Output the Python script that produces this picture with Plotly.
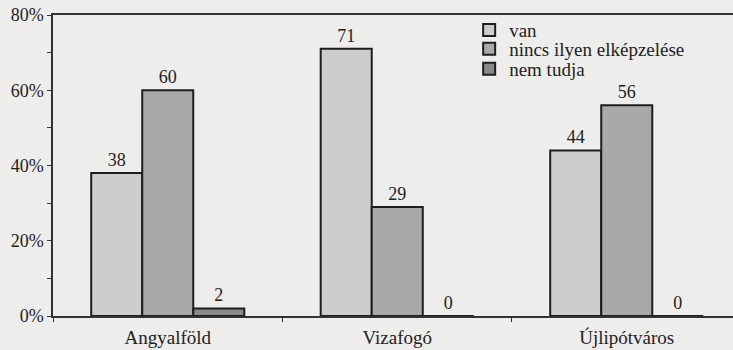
import plotly.graph_objects as go

categories = ["Angyalföld", "Vizafogó", "Újlipótváros"]
series_names = ["van", "nincs ilyen elképzelése", "nem tudja"]
van = [38, 71, 44]
nincs = [60, 29, 56]
nem_tudja = [2, 0, 0]
y_tickvals = [0, 20, 40, 60, 80]
y_ticktext = ["0%", "20%", "40%", "60%", "80%"]

colors = ["#cdcdcd", "#a9a9a9", "#898989"]
font_family = "'Liberation Serif', 'Times New Roman', Times, serif"
legend_names = ["legend", "legend2", "legend3"]
legend_y = [0.950, 0.887, 0.821]

fig = go.Figure()
for name, vals, col, lg in zip(series_names, [van, nincs, nem_tudja], colors, legend_names):
    fig.add_trace(go.Bar(
        x=categories, y=vals, name=name, legend=lg,
        marker=dict(color=col, line=dict(color="#1e1e1e", width=2)),
        text=[str(v) for v in vals], textposition="outside",
        textfont=dict(family=font_family, size=18, color="#222222"),
        cliponaxis=False, hoverinfo="skip",
    ))

legend_common = dict(x=0.612, xanchor="left", yanchor="middle",
                     bgcolor="rgba(0,0,0,0)",
                     font=dict(family=font_family, size=19, color="#222222"))
fig.update_layout(
    width=733, height=350,
    margin=dict(l=53, r=0, t=15, b=34, autoexpand=False),
    paper_bgcolor="#ededeb", plot_bgcolor="#ededeb",
    barmode="group", bargap=0.333, bargroupgap=0,
    font=dict(family=font_family, size=18, color="#222222"),
    showlegend=True,
    legend=dict(y=legend_y[0], **legend_common),
    legend2=dict(y=legend_y[1], **legend_common),
    legend3=dict(y=legend_y[2], **legend_common),
)
fig.update_xaxes(
    range=[-0.5, 2.463], showline=True, linecolor="#333333", linewidth=1.5,
    mirror=True, ticks="outside", tickson="boundaries", ticklen=4,
    tickcolor="#333333", showgrid=False, zeroline=False,
    tickfont=dict(size=19), ticklabelstandoff=3,
)
fig.update_yaxes(
    range=[0, 80], tickvals=y_tickvals, ticktext=y_ticktext,
    showline=True, linecolor="#333333", linewidth=1.5,
    ticks="outside", ticklen=4, tickcolor="#333333",
    minor=dict(tickvals=[10, 30, 50, 70], ticks="outside", ticklen=4, tickcolor="#333333"),
    showgrid=False, zeroline=False, tickfont=dict(size=18),
)
fig.write_html("out.html", config={"displayModeBar": False},
               post_script="document.body.style.margin='0';")
